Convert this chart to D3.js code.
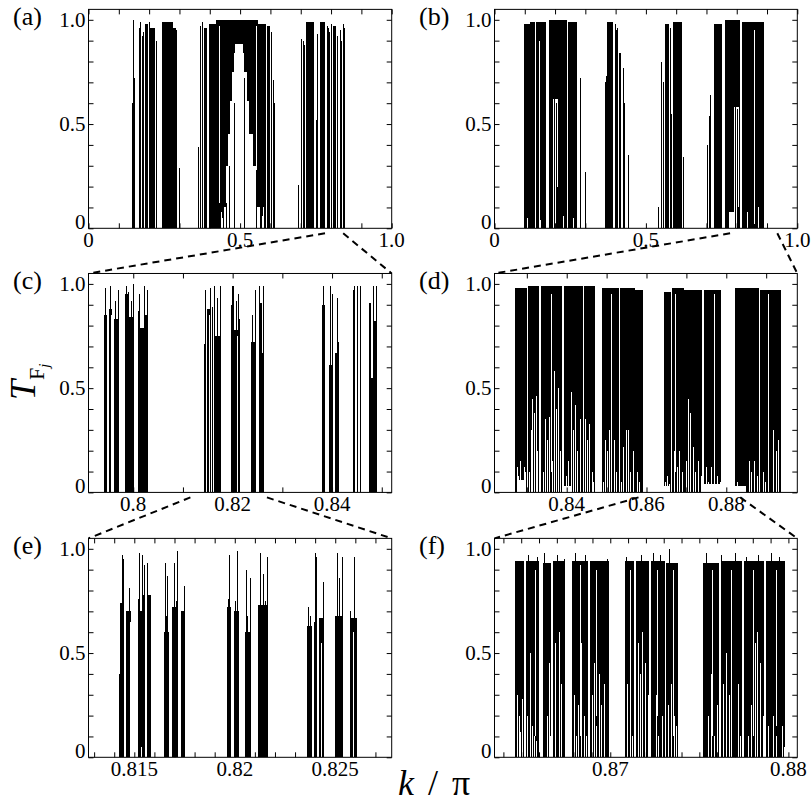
<!DOCTYPE html>
<html><head><meta charset="utf-8">
<script src="https://cdn.jsdelivr.net/npm/d3@7"></script>
<style>body{margin:0;background:#fff}</style>
</head><body>
<svg id="chart" width="811" height="806"></svg>
<script>
// ---------------- DATA (k/pi, T) ----------------
// bands: [k0, k1, Tmax]  dense oscillation filled from 0 to Tmax
// holes: [k0, k1, Tmin]  region below the lower envelope (white)
// dips:  [k, Tmin]       narrow minima of the fast oscillation (white from 0)
// slits: [k, Tlo, Thi]   thin white gaps
// spikes: [k, T]         single resonance peaks

const domainA = [0, 1], domainB = [0, 1];
const domainC = [0.791, 0.852], domainD = [0.8219, 0.8978];
const domainE = [0.81272, 0.82781], domainF = [0.8635, 0.8805];

const xTicksAB = [0,0.1,0.2,0.3,0.4,0.5,0.6,0.7,0.8,0.9,1.0];
const xTicksC = [0.80,0.81,0.82,0.83,0.84,0.85];
const xTicksD = [0.83,0.84,0.85,0.86,0.87,0.88,0.89];
const xTicksE = [0.813,0.814,0.815,0.816,0.817,0.818,0.819,0.820,0.821,0.822,0.823,0.824,0.825,0.826,0.827];
const xTicksF = [0.864,0.865,0.866,0.867,0.868,0.869,0.870,0.871,0.872,0.873,0.874,0.875,0.876,0.877,0.878,0.879,0.880];
const yTicks = [0,0.1,0.2,0.3,0.4,0.5,0.6,0.7,0.8,0.9,1.0];

const xLabelValsAB = [0, 0.5, 1.0], xLabelTxtAB = ["0","0.5","1.0"];
const xLabelValsC = [0.80, 0.82, 0.84], xLabelTxtC = ["0.8","0.82","0.84"];
const xLabelValsD = [0.84, 0.86, 0.88], xLabelTxtD = ["0.84","0.86","0.88"];
const xLabelValsE = [0.815, 0.820, 0.825], xLabelTxtE = ["0.815","0.82","0.825"];
const xLabelValsF = [0.870, 0.880], xLabelTxtF = ["0.87","0.88"];
const yLabelVals = [0, 0.5, 1.0], yLabelTxt = ["0","0.5","1.0"];

// ---- panel (a)
const bandsA = [[0.186,0.196,0.98],[0.203,0.219,0.96],[0.241,0.280,0.99],[0.280,0.287,0.96],
 [0.380,0.391,0.96],[0.396,0.420,0.98],[0.420,0.560,1.0],[0.560,0.585,0.98],[0.589,0.598,0.97],
 [0.716,0.745,0.99],[0.762,0.779,0.99],[0.806,0.815,0.97]];
const holesA = [[0.446,0.566,0.10],[0.452,0.556,0.30],[0.460,0.542,0.45],[0.468,0.530,0.61],
 [0.474,0.522,0.75],[0.479,0.514,0.84],[0.484,0.508,0.885]];
const dipsA = [[0.437,0.08],[0.441,0.05],[0.572,0.06],[0.577,0.10]];
const slitsA = [[0.430,0.12,0.97],[0.551,0.30,0.97],[0.200,0.0,0.9]];
const spikesA = [[0.142,0.60],[0.146,1.0],[0.150,0.72],[0.166,0.96],[0.171,0.99],[0.175,0.92],[0.181,0.94],
 [0.199,0.99],[0.222,0.90],[0.290,0.95],[0.297,0.29],
 [0.361,0.39],[0.369,0.97],[0.374,0.99],
 [0.452,0.12],[0.462,0.30],[0.479,0.60],[0.513,0.72],[0.553,0.28],
 [0.603,0.94],[0.607,0.71],[0.612,0.60],
 [0.690,0.21],[0.701,0.91],[0.707,0.90],[0.711,0.88],[0.750,0.52],[0.755,0.93],
 [0.785,0.97],[0.789,0.96],[0.794,0.94],[0.799,0.98],[0.818,0.92],
 [0.828,0.95],[0.833,0.90],[0.839,0.98],[0.843,0.96]];

// ---- panel (b)
const bandsB = [[0.099,0.116,0.98],[0.118,0.133,0.99],[0.138,0.171,0.99],[0.179,0.238,1.0],[0.243,0.271,0.99],
 [0.373,0.392,0.99],[0.400,0.407,0.95],[0.411,0.419,0.84],
 [0.564,0.575,0.98],[0.591,0.619,0.99],
 [0.724,0.751,0.98],[0.762,0.812,1.0],[0.818,0.890,0.99]];
const holesB = [[0.193,0.210,0.62],[0.790,0.807,0.58],[0.775,0.790,0.08]];
const dipsB = [[0.108,0.05],[0.150,0.04],[0.225,0.06],[0.258,0.05],[0.835,0.08],[0.870,0.1]];
const slitsB = [[0.858,0.02,0.95],[0.148,0.0,0.9]];
const spikesB = [[0.104,0.96],[0.196,0.66],[0.203,0.60],[0.208,0.20],[0.254,0.94],
 [0.282,0.72],[0.298,0.27],
 [0.365,0.70],[0.369,0.73],[0.397,0.98],[0.404,0.96],[0.424,0.77],[0.428,0.60],[0.440,0.35],
 [0.541,0.10],[0.551,0.80],[0.556,0.70],[0.580,0.96],[0.584,0.55],[0.623,0.34],
 [0.702,0.40],[0.708,0.54],[0.713,0.64],
 [0.795,0.58],[0.800,0.57],[0.805,0.10]];

// ---- panel (c)
const bandsC = [[0.79416,0.79471,0.85],[0.79503,0.79571,0.88],[0.79618,0.79712,0.83],
 [0.79839,0.79893,0.95],[0.79920,0.80006,0.84],
 [0.80101,0.80140,0.87],[0.80140,0.80208,0.79],[0.80222,0.80288,0.85],
 [0.81431,0.81471,0.71],[0.81485,0.81565,0.88],[0.81652,0.81753,0.75],
 [0.81974,0.82010,0.90],[0.82010,0.82141,0.78],
 [0.82371,0.82458,0.72],[0.82524,0.82600,0.91],[0.82600,0.82624,0.67],
 [0.83800,0.83867,0.90],[0.83933,0.84000,0.61],[0.84054,0.84135,0.67],
 [0.84425,0.84465,0.97],
 [0.84740,0.84790,0.91],[0.84790,0.84830,0.55],[0.84830,0.84908,0.82]];
const holesC = [];
const dipsC = [];
const slitsC = [[0.79550,0.0,0.85],[0.81520,0.0,0.85],[0.82080,0.0,0.75]];
const spikesC = [[0.79436,0.98],[0.79530,0.99],[0.79640,0.92],[0.79690,0.97],
 [0.79860,0.99],[0.79900,0.96],[0.79950,0.92],[0.79998,1.0],
 [0.80120,0.95],[0.80220,0.99],[0.80270,0.97],
 [0.81450,0.97],[0.81550,0.98],[0.81590,0.89],[0.81620,0.99],[0.81680,0.93],[0.81740,0.99],
 [0.81980,0.99],[0.82010,0.99],[0.82060,0.92],[0.82100,0.95],[0.82130,0.83],
 [0.82390,0.85],[0.82440,0.97],[0.82530,0.99],[0.82620,0.99],
 [0.83820,0.99],[0.83950,0.99],[0.83990,0.95],[0.84090,0.93],[0.84120,0.72],
 [0.84451,0.99],[0.84492,0.99],[0.84572,0.99],
 [0.84830,0.99],[0.84880,0.99]];

// ---- panel (d)
const bandsD = [[0.82708,0.83010,0.98],[0.83040,0.83300,0.99],[0.83360,0.83875,0.99],
 [0.83940,0.84400,0.99],[0.84430,0.84708,0.99],
 [0.84875,0.85300,0.98],[0.85330,0.85700,0.98],[0.85720,0.85915,0.97],
 [0.86440,0.86610,0.96],[0.86640,0.86930,0.98],[0.86950,0.87400,0.97],[0.87430,0.87858,0.97],
 [0.88225,0.88820,0.98],[0.88845,0.89375,0.97]];
const holesD = [[0.82760,0.82960,0.06],[0.83880,0.84100,0.03],[0.86450,0.86600,0.03],[0.87450,0.87850,0.04],[0.88230,0.88500,0.03]];
const dipsD = [[0.8275,0.12],[0.8279,0.08],[0.8283,0.15],[0.8287,0.05],[0.8292,0.12],[0.8296,0.10],
 [0.8306,0.10],[0.8310,0.30],[0.8314,0.45],[0.8318,0.38],[0.8322,0.46],[0.8326,0.20],
 [0.8340,0.10],[0.8345,0.35],[0.8350,0.25],[0.8356,0.36],[0.8362,0.15],[0.8368,0.58],[0.8373,0.40],[0.8378,0.50],[0.8384,0.20],
 [0.8398,0.08],[0.8404,0.15],[0.8410,0.48],[0.8415,0.30],[0.8421,0.42],[0.8427,0.20],[0.8433,0.35],
 [0.8447,0.35],[0.8452,0.25],[0.8457,0.33],[0.8463,0.10],[0.8467,0.05],
 [0.8490,0.05],[0.8495,0.25],[0.8500,0.20],[0.8506,0.30],[0.8512,0.15],[0.8518,0.25],[0.8524,0.10],
 [0.8537,0.05],[0.8542,0.22],[0.8548,0.30],[0.8553,0.30],[0.8559,0.10],[0.8565,0.20],
 [0.8576,0.10],[0.8582,0.05],
 [0.8647,0.05],[0.8652,0.08],[0.8657,0.04],
 [0.8670,0.20],[0.8676,0.12],[0.8682,0.20],[0.8688,0.10],
 [0.8699,0.15],[0.8704,0.45],[0.8710,0.38],[0.8716,0.22],[0.8722,0.10],[0.8730,0.15],[0.8736,0.08],
 [0.8748,0.12],[0.8755,0.05],[0.8762,0.12],[0.8770,0.10],[0.8777,0.08],[0.8783,0.05],
 [0.8826,0.05],[0.8833,0.03],[0.8856,0.15],[0.8862,0.10],[0.8870,0.15],[0.8877,0.08],
 [0.8892,0.10],[0.8898,0.05],[0.8905,0.10],[0.8918,0.30],[0.8924,0.20],[0.8930,0.25]];
const slitsD = [[0.83600,0.10,0.95],[0.85100,0.05,0.95],[0.86720,0.10,0.95],[0.87700,0.05,0.95],[0.89050,0.05,0.95]];
const spikesD = [[0.82695,0.42]];

// ---- panel (e)
const bandsE = [[0.81423,0.81430,0.40],[0.81430,0.81451,0.74],[0.81459,0.81484,0.70],
 [0.81520,0.81530,0.76],[0.81530,0.81545,0.70],[0.81545,0.81553,0.78],[0.81566,0.81583,0.78],
 [0.81646,0.81674,0.60],[0.81690,0.81718,0.72],[0.81732,0.81753,0.70],
 [0.81963,0.81979,0.72],[0.81996,0.82021,0.70],[0.82050,0.82075,0.60],[0.82117,0.82161,0.73],
 [0.82360,0.82384,0.63],[0.82395,0.82410,0.65],[0.82417,0.82442,0.67],
 [0.82500,0.82541,0.68],[0.82571,0.82607,0.67]];
const holesE = [[0.81532,0.81543,0.05]];
const dipsE = [];
const slitsE = [[0.81477,0.0,0.65],[0.81660,0.0,0.55],[0.81706,0.0,0.6],[0.82030,0.05,0.65],
 [0.82140,0.05,0.6],[0.82428,0.0,0.55],[0.82520,0.02,0.6],[0.82590,0.0,0.6]];
const spikesE = [[0.81437,0.97],[0.81444,0.95],[0.81472,0.81],
 [0.81525,0.98],[0.81537,0.97],[0.81546,0.92],[0.81550,0.78],[0.81562,0.93],
 [0.81652,0.93],[0.81665,0.87],[0.81660,0.68],[0.81698,0.93],[0.81712,0.99],[0.81705,0.75],[0.81748,0.82],
 [0.81971,0.97],[0.81966,0.76],[0.82012,0.99],[0.82003,0.75],[0.82054,0.90],[0.82075,0.86],[0.82062,0.68],
 [0.82125,0.98],[0.82140,0.88],[0.82161,0.96],[0.82150,0.75],
 [0.82365,0.72],[0.82376,0.68],[0.82401,0.98],[0.82406,0.96],[0.82437,0.84],
 [0.82508,0.98],[0.82520,0.86],[0.82533,0.96],[0.82574,0.70],[0.82591,0.96]];

// ---- panel (f)
const bandsF = [[0.86464,0.86515,0.94],[0.86525,0.86598,0.94],
 [0.86621,0.86670,0.93],[0.86678,0.86748,0.94],
 [0.86785,0.86875,0.94],[0.86885,0.86994,0.94],
 [0.87084,0.87135,0.94],[0.87145,0.87220,0.94],[0.87228,0.87305,0.94],[0.87312,0.87383,0.93],
 [0.87523,0.87612,0.93],[0.87622,0.87738,0.94],
 [0.87748,0.87865,0.94],[0.87873,0.87981,0.94]];
const holesF = [];
const dipsF = [[0.86475,0.30],[0.86485,0.20],[0.86495,0.12],[0.86505,0.28],
 [0.86535,0.20],[0.86548,0.50],[0.86560,0.15],[0.86572,0.10],[0.86585,0.08],
 [0.86630,0.30],[0.86642,0.20],[0.86655,0.45],[0.86664,0.10],
 [0.86688,0.55],[0.86700,0.30],[0.86712,0.60],[0.86725,0.35],[0.86738,0.15],
 [0.86795,0.30],[0.86808,0.10],[0.86820,0.25],[0.86835,0.55],[0.86850,0.20],[0.86865,0.10],
 [0.86895,0.30],[0.86908,0.45],[0.86920,0.15],[0.86935,0.40],[0.86950,0.25],[0.86965,0.35],[0.86980,0.08],
 [0.87095,0.35],[0.87108,0.20],[0.87122,0.10],
 [0.87155,0.55],[0.87168,0.40],[0.87180,0.60],[0.87195,0.45],[0.87210,0.30],
 [0.87240,0.15],[0.87255,0.30],[0.87270,0.10],[0.87290,0.20],
 [0.87322,0.25],[0.87340,0.35],[0.87355,0.20],[0.87370,0.15],
 [0.87535,0.30],[0.87550,0.20],[0.87565,0.40],[0.87580,0.10],[0.87598,0.25],
 [0.87635,0.35],[0.87650,0.50],[0.87665,0.30],[0.87680,0.40],[0.87698,0.20],[0.87715,0.35],[0.87730,0.10],
 [0.87760,0.20],[0.87775,0.10],[0.87792,0.25],[0.87810,0.55],[0.87825,0.60],[0.87840,0.45],[0.87855,0.20],
 [0.87885,0.15],[0.87900,0.30],[0.87915,0.20],[0.87930,0.10],[0.87945,0.25],[0.87962,0.15],[0.87975,0.05]];
const slitsF = [[0.86575,0.10,0.90],[0.86700,0.15,0.90],[0.86830,0.10,0.92],[0.86920,0.20,0.90],
 [0.87110,0.10,0.90],[0.87260,0.20,0.90],[0.87350,0.10,0.90],[0.87570,0.10,0.90],
 [0.87680,0.20,0.90],[0.87800,0.10,0.90],[0.87930,0.15,0.90]];
const spikesF = [[0.86540,0.97],[0.86590,0.96],[0.86630,0.98],[0.86700,0.97],[0.86740,0.95],[0.86800,0.98],
 [0.86860,0.97],[0.86980,0.95],[0.87090,0.96],[0.87170,0.97],[0.87240,0.98],[0.87330,1.0],[0.87280,0.97],
 [0.87540,0.98],[0.87620,0.97],[0.87700,0.98],[0.87760,0.96],[0.87830,0.97],[0.87900,0.98],[0.87950,0.96]];

// zoom connectors: parent axis interval -> child frame top corners
const connAC = [0.78, 0.84], connBD = [0.778, 0.934], connCE = [0.8115, 0.8269], connDF = [0.858, 0.8835];

// ---------------- LAYOUT ----------------
const FONT = '"Liberation Serif"';
const colL = [88.5, 494.5], colR = [391.7, 797.3];
const rowY0 = [228.3, 492.4, 757.3];
const unit = 208.5, yMax = 1.05;

const panels = [
 {lab:"(a)", c:0, r:0, dom:domainA, ticks:xTicksAB, lv:xLabelValsAB, lt:xLabelTxtAB, bands:bandsA, holes:holesA, dips:dipsA, slits:slitsA, spikes:spikesA},
 {lab:"(b)", c:1, r:0, dom:domainB, ticks:xTicksAB, lv:xLabelValsAB, lt:xLabelTxtAB, bands:bandsB, holes:holesB, dips:dipsB, slits:slitsB, spikes:spikesB},
 {lab:"(c)", c:0, r:1, dom:domainC, ticks:xTicksC, lv:xLabelValsC, lt:xLabelTxtC, bands:bandsC, holes:holesC, dips:dipsC, slits:slitsC, spikes:spikesC},
 {lab:"(d)", c:1, r:1, dom:domainD, ticks:xTicksD, lv:xLabelValsD, lt:xLabelTxtD, bands:bandsD, holes:holesD, dips:dipsD, slits:slitsD, spikes:spikesD},
 {lab:"(e)", c:0, r:2, dom:domainE, ticks:xTicksE, lv:xLabelValsE, lt:xLabelTxtE, bands:bandsE, holes:holesE, dips:dipsE, slits:slitsE, spikes:spikesE},
 {lab:"(f)", c:1, r:2, dom:domainF, ticks:xTicksF, lv:xLabelValsF, lt:xLabelTxtF, bands:bandsF, holes:holesF, dips:dipsF, slits:slitsF, spikes:spikesF}
];

const svg = d3.select("#chart");
svg.append("rect").attr("width",811).attr("height",806).attr("fill","#fff");

panels.forEach((p,i) => {
  const x = d3.scaleLinear().domain(p.dom).range([colL[p.c], colR[p.c]]);
  const y = d3.scaleLinear().domain([0, yMax]).range([rowY0[p.r], rowY0[p.r] - unit*yMax]);
  p.x = x; p.y = y;
  const g = svg.append("g");
  const cid = "clip"+i;
  g.append("clipPath").attr("id",cid).append("rect")
    .attr("x",x.range()[0]).attr("y",y(yMax)).attr("width",x.range()[1]-x.range()[0]).attr("height",y(0)-y(yMax));
  const d = g.append("g").attr("clip-path",`url(#${cid})`).attr("shape-rendering","crispEdges");
  d.selectAll(".band").data(p.bands).join("rect")
    .attr("x",b=>x(b[0])).attr("width",b=>Math.max(1,x(b[1])-x(b[0])))
    .attr("y",b=>y(b[2])).attr("height",b=>y(0)-y(b[2])).attr("fill","#000");
  d.selectAll(".hole").data(p.holes).join("rect")
    .attr("x",b=>x(b[0])).attr("width",b=>Math.max(1,x(b[1])-x(b[0])))
    .attr("y",b=>y(b[2])).attr("height",b=>y(0)-y(b[2])).attr("fill","#fff");
  d.selectAll(".dip").data(p.dips).join("line")
    .attr("x1",s=>Math.round(x(s[0]))+0.5).attr("x2",s=>Math.round(x(s[0]))+0.5)
    .attr("y1",y(0)).attr("y2",s=>y(s[1])).attr("stroke","#fff").attr("stroke-width",1);
  d.selectAll(".slit").data(p.slits).join("line")
    .attr("x1",s=>Math.round(x(s[0]))+0.5).attr("x2",s=>Math.round(x(s[0]))+0.5)
    .attr("y1",s=>y(s[1])).attr("y2",s=>y(s[2])).attr("stroke","#fff").attr("stroke-width",1);
  d.selectAll(".spike").data(p.spikes).join("line")
    .attr("x1",s=>Math.round(x(s[0]))+0.5).attr("x2",s=>Math.round(x(s[0]))+0.5)
    .attr("y1",y(0)).attr("y2",s=>y(s[1])).attr("stroke","#000").attr("stroke-width",1);

  // frame
  g.append("rect").attr("x",x.range()[0]).attr("y",y(yMax))
    .attr("width",x.range()[1]-x.range()[0]).attr("height",y(0)-y(yMax))
    .attr("fill","none").attr("stroke","#000").attr("stroke-width",1);

  // inward ticks with d3 axes
  const tk = 5;
  const axB = g.append("g").attr("transform",`translate(0,${y(0)})`)
    .call(d3.axisBottom(x).tickValues(p.ticks).tickSize(-tk).tickFormat(""));
  const axT = g.append("g").attr("transform",`translate(0,${y(yMax)})`)
    .call(d3.axisTop(x).tickValues(p.ticks).tickSize(-tk).tickFormat(""));
  const axL = g.append("g").attr("transform",`translate(${x.range()[0]},0)`)
    .call(d3.axisLeft(y).tickValues(yTicks).tickSize(-tk).tickFormat(""));
  const axR = g.append("g").attr("transform",`translate(${x.range()[1]},0)`)
    .call(d3.axisRight(y).tickValues(yTicks).tickSize(-tk).tickFormat(""));
  [axB,axT,axL,axR].forEach(a => { a.select(".domain").remove(); a.selectAll("line").attr("stroke","#000"); });

  // tick labels
  g.selectAll(".xl").data(p.lv).join("text")
    .style("font-family",FONT)
    .attr("x",v=>x(v)).attr("y",y(0)+18.5).attr("text-anchor","middle").attr("font-size",21)
    .text((v,j)=>p.lt[j]);
  g.selectAll(".yl").data(yLabelVals).join("text")
    .style("font-family",FONT)
    .attr("x",x.range()[0]-3).attr("y",v=> v===0 ? y(v)+1 : y(v)+7).attr("text-anchor","end").attr("font-size",21)
    .text((v,j)=>yLabelTxt[j]);
  // panel label
  g.append("text").style("font-family",FONT).attr("x", p.c===0 ? 13 : 419).attr("y", y(1)+5).attr("font-size",26).text(p.lab);
});

// connectors
function connector(parent, child, ks){
  const yA = parent.y(0) + 5;
  const ends = [[child.x.range()[0], child.y(yMax)], [child.x.range()[1], child.y(yMax)]];
  ks.forEach((k,j) => {
    svg.append("line").attr("x1",parent.x(k)).attr("y1",yA).attr("x2",ends[j][0]).attr("y2",ends[j][1])
      .attr("stroke","#000").attr("stroke-width",2).attr("stroke-dasharray","7,5");
  });
}
connector(panels[0], panels[2], connAC);
connector(panels[1], panels[3], connBD);
connector(panels[2], panels[4], connCE);
connector(panels[3], panels[5], connDF);

// axis titles
const yt = svg.append("text").style("font-family",FONT).attr("transform","translate(35,400) rotate(-90)").attr("font-size",36);
yt.append("tspan").attr("font-style","italic").text("T");
yt.append("tspan").attr("font-size",22).attr("dy",9).text("F");
yt.append("tspan").attr("font-size",15).attr("font-style","italic").attr("dy",5).text("j");

const xt = svg.append("text").style("font-family",FONT).attr("x",398).attr("y",795).attr("font-size",36);
xt.append("tspan").attr("font-style","italic").text("k");
xt.append("tspan").attr("dx",14).text("/");
xt.append("tspan").attr("dx",14).text("π");
</script>
</body></html>
